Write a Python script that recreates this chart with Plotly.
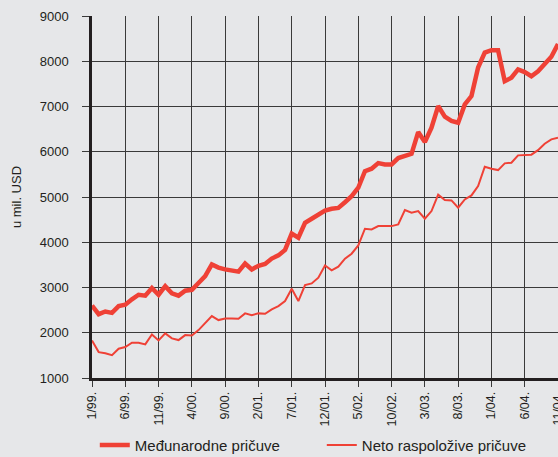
import plotly.graph_objects as go

# Monthly labels 1/99 .. 11/04
months = []
for yr in range(99, 105):
    for m in range(1, 13):
        yy = yr % 100
        months.append(f"{m}/{yy:02d}.")
months = months[:71]

tick_labels = ["1/99.", "6/99.", "11/99.", "4/00.", "9/00.", "2/01.", "7/01.", "12/01.",
               "5/02.", "10/02.", "3/03.", "8/03.", "1/04.", "6/04.", "11/04."]

medunarodne = [2600, 2410, 2470, 2440, 2590, 2620, 2740, 2840, 2820, 2990,
               2840, 3030, 2870, 2820, 2930, 2950, 3100, 3250, 3510, 3440,
               3400, 3385, 3350, 3530, 3400, 3480, 3520, 3640, 3710, 3830,
               4190, 4100, 4430, 4520, 4615, 4700, 4740, 4760, 4885, 5020,
               5205, 5570, 5625, 5750, 5720, 5720, 5860, 5905, 5955, 6435,
               6215, 6530, 7010, 6775, 6680, 6640, 7045, 7230, 7860, 8190,
               8245, 8245, 7560, 7635, 7820, 7760, 7670, 7780, 7930, 8100,
               8380]

neto = [1830, 1572, 1545, 1505, 1648, 1683, 1780, 1780, 1742, 1963,
        1830, 1986, 1875, 1838, 1948, 1941, 2059, 2207, 2368, 2280,
        2317, 2317, 2310, 2428, 2390, 2428, 2420, 2516, 2590, 2700,
        2973, 2700, 3053, 3090, 3216, 3488, 3378, 3459, 3636, 3747,
        3930, 4299, 4284, 4357, 4357, 4357, 4395, 4711, 4653, 4690,
        4520, 4690, 5050, 4932, 4925, 4763, 4947, 5035, 5241, 5670,
        5625, 5595, 5743, 5758, 5920, 5920, 5935, 6036, 6178, 6273,
        6310]

RED = "#ef4136"
BG = "#e6e7e9"
GRID = "#3a3a3a"
TXT = "#231f20"
FONT = "Liberation Sans, Arial, sans-serif"

fig = go.Figure()
fig.add_trace(go.Scatter(x=months, y=medunarodne, mode="lines",
                         name="Međunarodne pričuve",
                         line=dict(color=RED, width=4.5)))
fig.add_trace(go.Scatter(x=months, y=neto, mode="lines",
                         name="Neto raspoložive pričuve",
                         line=dict(color=RED, width=2)))

fig.update_layout(
    width=558, height=457,
    margin=dict(l=92, r=0, t=16, b=79, pad=0, autoexpand=False),
    paper_bgcolor=BG, plot_bgcolor=BG,
    font=dict(family=FONT, color=TXT, size=13),
    showlegend=True,
    legend=dict(orientation="h", x=0.006, xanchor="left", y=-0.186, yanchor="middle",
                font=dict(size=15, color=TXT, family=FONT),
                bgcolor="rgba(0,0,0,0)", entrywidth=182, entrywidthmode="pixels",
                itemwidth=30, tracegroupgap=0),
)

fig.update_xaxes(
    type="category", range=[0, 70], automargin=False,
    tickmode="array", tickvals=tick_labels, ticktext=tick_labels,
    tickangle=-90, tickfont=dict(size=12.5, color=TXT),
    ticks="outside", ticklen=6, tickcolor=GRID, tickwidth=1,
    ticklabelstandoff=0,
    showgrid=True, gridcolor=GRID, gridwidth=1,
    showline=True, linecolor=TXT, linewidth=2.5,
    zeroline=False,
)
fig.update_yaxes(
    range=[1000, 9000], dtick=1000, tick0=1000, automargin=False,
    tickfont=dict(size=13, color=TXT),
    ticks="outside", ticklen=7, tickcolor=GRID, tickwidth=1,
    ticklabelstandoff=11,
    showgrid=True, gridcolor=GRID, gridwidth=1,
    showline=True, linecolor=TXT, linewidth=2.5,
    zeroline=False,
    title=dict(text="u mil. USD", font=dict(size=13, color=TXT), standoff=16),
)

fig.write_html(
    "out.html",
    config={"displayModeBar": False},
    post_script="document.body.style.margin='0';document.body.style.background='" + BG + "';",
)
